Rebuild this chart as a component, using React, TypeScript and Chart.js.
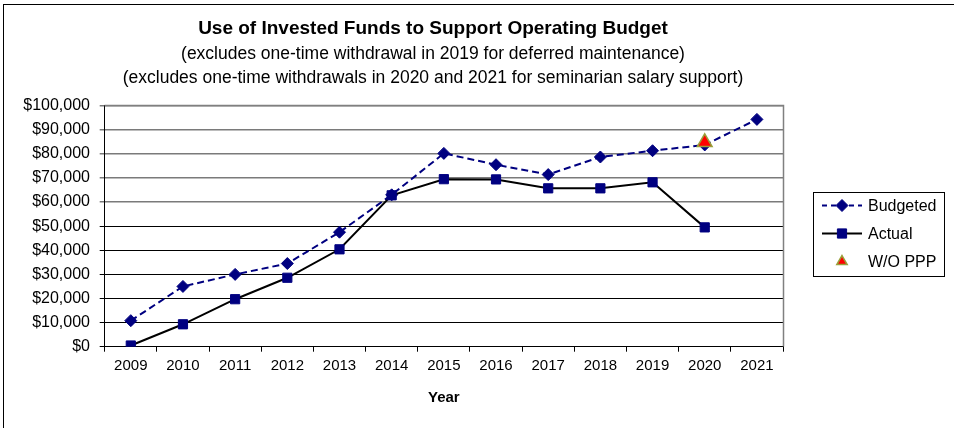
import React, { useEffect, useRef } from "react";
import { Chart, registerables } from "chart.js";
import { drawPoint } from "chart.js/helpers";

Chart.register(...registerables);

const FONT = '"Liberation Sans", Arial, sans-serif';

const years = ["2009", "2010", "2011", "2012", "2013", "2014", "2015", "2016", "2017", "2018", "2019", "2020", "2021"];
const budgeted = [10800, 25000, 30000, 34500, 47500, 63000, 80200, 75500, 71400, 78700, 81300, 83700, 94300];
const actual: (number | null)[] = [500, 9300, 19700, 28600, 40400, 62800, 69500, 69400, 65700, 65700, 68200, 49500, null];
const withoutPPP: (number | null)[] = [null, null, null, null, null, null, null, null, null, null, null, 84800, null];

const yMin = 0;
const yMax = 100000;
const yStep = 10000;

const titleText = "Use of Invested Funds to Support Operating Budget";
const subtitleLines = [
  "(excludes one-time withdrawal in 2019 for deferred maintenance)",
  "(excludes one-time withdrawals in 2020 and 2021 for seminarian salary support)",
];
const xTitle = "Year";
const seriesNames = ["Budgeted", "Actual", "W/O PPP"];

const NAVY = "#000080";

function alignPx(v: number) {
  return Math.round(v - 0.5) + 0.5;
}

const plotBorderPlugin = {
  id: "plotBorder",
  beforeDatasetsDraw(chart: any) {
    const { ctx, chartArea } = chart;
    const t = alignPx(chartArea.top);
    const r = alignPx(chartArea.right);
    const b = alignPx(chartArea.bottom);
    ctx.save();
    ctx.strokeStyle = "#808080";
    ctx.lineWidth = 1.5;
    ctx.beginPath();
    ctx.moveTo(alignPx(chartArea.left), t);
    ctx.lineTo(r, t);
    ctx.lineTo(r, b);
    ctx.stroke();
    ctx.restore();
  },
};

const legendPlugin = {
  id: "boxLegend",
  afterDraw(chart: any) {
    const { ctx, chartArea } = chart;
    const left = Math.round(chartArea.right + 30);
    const top = Math.round(chartArea.top + 86);
    const w = 131;
    const h = 84;
    ctx.save();
    ctx.fillStyle = "#fff";
    ctx.fillRect(left, top, w, h);
    ctx.strokeStyle = "#000";
    ctx.lineWidth = 1;
    ctx.strokeRect(left + 0.5, top + 0.5, w, h);
    const rowH = 28;
    const firstY = top + 13.5;
    chart.data.datasets.forEach((ds: any, i: number) => {
      const y = firstY + i * rowH;
      const x0 = left + 9;
      const x1 = left + 49;
      const xm = (x0 + x1) / 2;
      if (ds.showLine !== false) {
        ctx.beginPath();
        ctx.setLineDash(ds.borderDash ? [5, 4] : []);
        ctx.strokeStyle = ds.borderColor;
        ctx.lineWidth = ds.borderWidth;
        ctx.moveTo(x0, y);
        ctx.lineTo(x1, y);
        ctx.stroke();
        ctx.setLineDash([]);
      }
      ctx.fillStyle = ds.pointBackgroundColor;
      ctx.strokeStyle = ds.pointBorderColor;
      ctx.lineWidth = ds.pointBorderWidth;
      drawPoint(ctx, { pointStyle: ds.pointStyle, radius: ds.pointStyle === "triangle" ? 6 : ds.pointRadius, rotation: 0, borderWidth: ds.pointBorderWidth }, xm, y);
      ctx.fillStyle = "#000";
      ctx.font = `16px ${FONT}`;
      ctx.textBaseline = "middle";
      ctx.textAlign = "left";
      ctx.fillText(seriesNames[i], left + 55, y + 1);
    });
    ctx.restore();
  },
};

export default function App() {
  const ref = useRef<HTMLCanvasElement>(null);
  useEffect(() => {
    Chart.defaults.font.family = FONT;
    Chart.defaults.color = "#000";
    const chart = new Chart(ref.current!, {
      type: "line",
      data: {
        labels: years,
        datasets: [
          {
            label: seriesNames[0],
            data: budgeted,
            borderColor: NAVY,
            borderWidth: 2,
            borderDash: [7, 4],
            pointStyle: "rectRot",
            pointRadius: 6,
            pointBackgroundColor: NAVY,
            pointBorderColor: NAVY,
            pointBorderWidth: 1,
            tension: 0,
            order: 2,
          },
          {
            label: seriesNames[1],
            data: actual,
            borderColor: "#000",
            borderWidth: 2,
            pointStyle: "rect",
            pointRadius: 6.5,
            pointBackgroundColor: NAVY,
            pointBorderColor: NAVY,
            pointBorderWidth: 1,
            tension: 0,
            order: 1,
          },
          {
            label: seriesNames[2],
            data: withoutPPP,
            showLine: false,
            borderColor: "#99a03a",
            borderWidth: 1,
            pointStyle: "triangle",
            pointRadius: 8.5,
            pointBackgroundColor: "#ff0000",
            pointBorderColor: "#99a03a",
            pointBorderWidth: 1.5,
            order: 0,
          },
        ] as any,
      },
      options: {
        responsive: false,
        animation: false,
        events: [],
        layout: { padding: { left: 0, right: 88, top: 0, bottom: 0 } },
        plugins: {
          legend: { display: false },
          tooltip: { enabled: false },
          title: {
            display: true,
            text: titleText,
            color: "#000",
            font: { family: FONT, size: 19, weight: "bold", lineHeight: 1.2 },
            padding: { top: 17.6, bottom: 0 },
          },
          subtitle: {
            display: true,
            text: subtitleLines,
            color: "#000",
            font: { family: FONT, size: 17.5, lineHeight: 1.37 },
            padding: { top: 1.6, bottom: 15.7 },
          },
        },
        scales: {
          x: {
            type: "category",
            offset: true,
            grid: { display: true, drawOnChartArea: false, drawTicks: true, tickLength: 5, offset: true, color: "#000", lineWidth: 1 },
            border: { display: true, color: "#000", width: 1 },
            ticks: { color: "#000", font: { family: FONT, size: 15 }, padding: 5, maxRotation: 0, autoSkip: false },
            title: { display: true, text: xTitle, color: "#000", font: { family: FONT, size: 15, weight: "bold", lineHeight: 1.2 }, padding: { top: 0, bottom: 21 } },
            afterFit: (s: any) => { s.height = 81.3; },
          },
          y: {
            type: "linear",
            min: yMin,
            max: yMax,
            grid: {
              color: (c: any) => (c.tick && c.tick.value >= 60000 ? "#7a7a7a" : "#000"),
              lineWidth: (c: any) => (c.tick && c.tick.value >= 60000 ? 1.5 : 1),
              drawTicks: true,
              tickLength: 5,
            },
            border: { display: true, color: "#000", width: 1 },
            ticks: {
              stepSize: yStep,
              color: "#000",
              font: { family: FONT, size: 16 },
              padding: 9.7,
              callback: (v: any) => "$" + Number(v).toLocaleString("en-US"),
            },
            afterFit: (s: any) => { s.width = 104.7; },
          },
          y2: {
            type: "linear",
            position: "right",
            display: true,
            grid: { display: false, drawTicks: false },
            ticks: { display: false },
            border: { display: false },
            afterFit: (s: any) => { s.width = 83; },
          },
        },
      } as any,
      plugins: [plotBorderPlugin, legendPlugin],
    });
    return () => chart.destroy();
  }, []);
  return (
    <div style={{ position: "fixed", left: 0, top: 0, width: 954, height: 428, background: "#fff" }}>
      <canvas ref={ref} width={954} height={428} style={{ display: "block" }} />
      <div
        style={{
          position: "absolute",
          left: 3,
          top: 4,
          right: 0,
          bottom: 0,
          borderTop: "1px solid #000",
          borderLeft: "1px solid #000",
          pointerEvents: "none",
        }}
      />
    </div>
  );
}
